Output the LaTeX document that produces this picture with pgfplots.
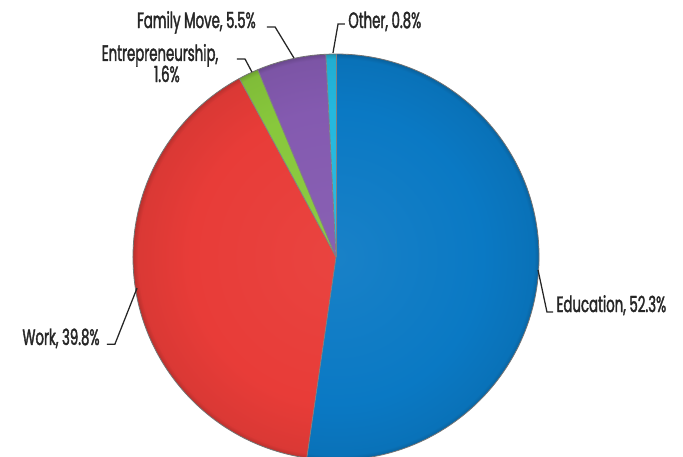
\documentclass[border=0pt]{standalone}
\usepackage{pgfplots}
\pgfplotsset{compat=1.18}
\usepackage{fontspec}
\setmainfont{Poppins}[FakeStretch=0.6,FakeBold=1.6]
\definecolor{edu}{RGB}{10,121,196}
\definecolor{wrk}{RGB}{232,60,56}
\definecolor{ent}{RGB}{136,200,60}
\definecolor{fam}{RGB}{132,90,176}
\definecolor{oth}{RGB}{36,184,222}
\definecolor{txt}{RGB}{38,38,38}
\pgfdeclareradialshading{edushade}{\pgfpoint{0bp}{0bp}}{color(0bp)=(edu!94!white); color(18bp)=(edu); color(24.4bp)=(edu!94!black); color(25bp)=(edu!80!black); color(50bp)=(edu!80!black)}
\pgfdeclareradialshading{wrkshade}{\pgfpoint{0bp}{0bp}}{color(0bp)=(wrk!96!white); color(18bp)=(wrk); color(24.4bp)=(wrk!94!black); color(25bp)=(wrk!80!black); color(50bp)=(wrk!80!black)}
\pgfdeclareradialshading{entshade}{\pgfpoint{0bp}{0bp}}{color(0bp)=(ent!96!white); color(18bp)=(ent); color(24.4bp)=(ent!94!black); color(25bp)=(ent!80!black); color(50bp)=(ent!80!black)}
\pgfdeclareradialshading{famshade}{\pgfpoint{0bp}{0bp}}{color(0bp)=(fam!96!white); color(18bp)=(fam); color(24.4bp)=(fam!94!black); color(25bp)=(fam!80!black); color(50bp)=(fam!80!black)}
\pgfdeclareradialshading{othshade}{\pgfpoint{0bp}{0bp}}{color(0bp)=(oth!96!white); color(18bp)=(oth); color(24.4bp)=(oth!94!black); color(25bp)=(oth!80!black); color(50bp)=(oth!80!black)}
% #1 = cumulative share before the slice (%), #2 = share (%), #3 = shading
\newcommand{\pieslice}[3]{%
  \begin{scope}
    \clip (axis cs:0,0) -- ++({90-3.6*(#1)}:4.5cm) arc[start angle={90-3.6*(#1)}, end angle={90-3.6*(#1+#2)}, radius=4.5cm] -- cycle;
    \shade[shading=#3] (axis cs:0,0) circle[radius=4.5cm];
  \end{scope}
  \draw[black!50, line width=0.5pt] (axis cs:0,0) -- ++({90-3.6*(#1)}:4.5cm);
}
\newcommand{\lbl}{\fontsize{14}{15}\selectfont}
\begin{document}
\begin{tikzpicture}
\begin{axis}[x=4.5cm, y=4.5cm, xmin=-1.655, xmax=1.709, ymin=-0.980, ymax=1.266, hide axis, clip=true]
\pieslice{0}{52.3}{edushade}
\pieslice{52.3}{39.8}{wrkshade}
\pieslice{92.1}{1.6}{entshade}
\pieslice{93.7}{5.5}{famshade}
\pieslice{99.2}{0.8}{othshade}
\draw[black!55, line width=0.5pt] (axis cs:0,0) circle[radius=4.5cm];
% leader lines
\draw[txt, line width=0.8pt] (axis cs:0.995,-0.064) -- (axis cs:1.039,-0.271) -- (axis cs:1.069,-0.271);
\draw[txt, line width=0.8pt] (axis cs:-1.128,-0.429) -- (axis cs:-1.089,-0.429) -- (axis cs:-0.980,-0.153);
\draw[txt, line width=0.8pt] (axis cs:-0.488,0.975) -- (axis cs:-0.448,0.975) -- (axis cs:-0.414,0.911);
\draw[txt, line width=0.8pt] (axis cs:-0.340,1.133) -- (axis cs:-0.300,1.133) -- (axis cs:-0.207,0.980);
\draw[txt, line width=0.8pt] (axis cs:0.044,1.148) -- (axis cs:0.010,1.148) -- (axis cs:-0.015,1.005);
% labels
\node[anchor=base west, text=txt, font=\lbl, inner sep=0pt] at (axis cs:1.085,-0.271) {Education, 52.3\%};
\node[anchor=base east, text=txt, font=\lbl, inner sep=0pt] at (axis cs:-1.163,-0.433) {Work, 39.8\%};
\node[anchor=base, text=txt, font=\lbl, inner sep=0pt] at (axis cs:-0.867,0.966) {Entrepreneurship,};
\node[anchor=base, text=txt, font=\lbl, inner sep=0pt] at (axis cs:-0.833,0.862) {1.6\%};
\node[anchor=base east, text=txt, font=\lbl, inner sep=0pt] at (axis cs:-0.394,1.128) {Family Move, 5.5\%};
\node[anchor=base west, text=txt, font=\lbl, inner sep=0pt] at (axis cs:0.059,1.128) {Other, 0.8\%};
\end{axis}
\pgfresetboundingbox
\path (current axis.south west) rectangle (current axis.north east);
\end{tikzpicture}
\end{document}
